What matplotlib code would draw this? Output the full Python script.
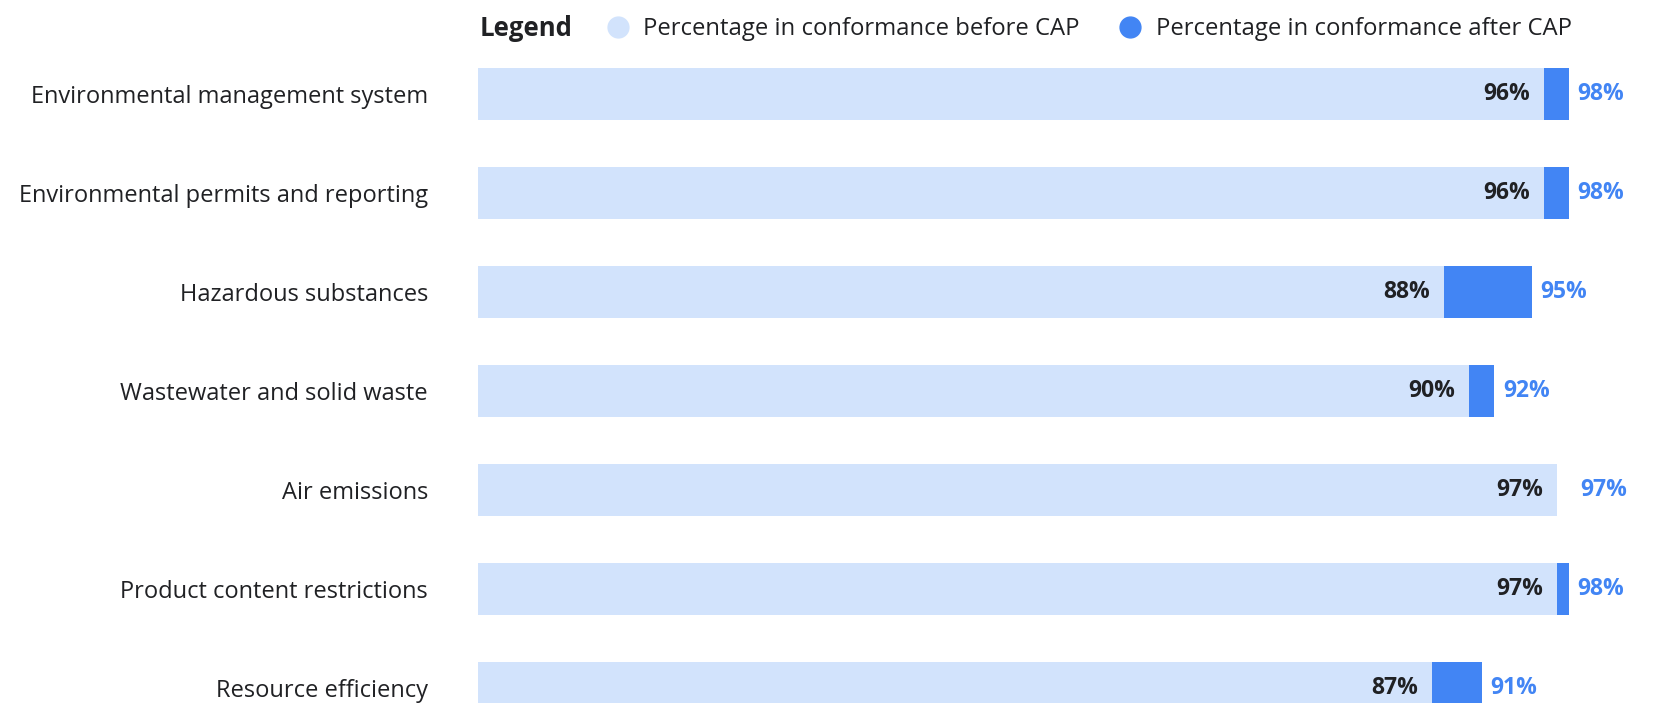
import numpy as np
import matplotlib.pyplot as plt

plt.rcParams['font.family'] = ['Open Sans', 'DejaVu Sans']

categories = [
    "Environmental management system",
    "Environmental permits and reporting",
    "Hazardous substances",
    "Wastewater and solid waste",
    "Air emissions",
    "Product content restrictions",
    "Resource efficiency",
]
before_cap = [96, 96, 88, 90, 97, 97, 87]
after_cap = [98, 98, 95, 92, 97, 98, 91]

light = "#d2e3fc"
dark = "#4285f4"
ink = "#202124"

W, H = 1653, 703
fig = plt.figure(figsize=(W / 100, H / 100), dpi=100)

# axes spans from the bar start to the right edge of the figure
ax = fig.add_axes([478 / W, 0, 1 - 478 / W, 1])
ax.set_xlim(10.72, 104.72)
ax.set_ylim((H - 94) / 99, -94 / 99)
ax.axis("off")

y = np.arange(len(categories))
before = np.array(before_cap)
after = np.array(after_cap)
bar_h = 0.525

ax.barh(y, before, height=bar_h, color=light, linewidth=0)
ax.barh(y, after - before, left=before, height=bar_h, color=dark, linewidth=0)

for yi, b, a, name in zip(y, before, after, categories):
    ax.text(b - 1.1, yi, f"{b}%", ha="right", va="center", fontsize=16.5,
            fontweight="bold", color=ink)
    gap = 0.7 if a > b else 1.9
    ax.text(a + gap, yi, f"{a}%", ha="left", va="center", fontsize=16.5,
            fontweight="bold", color=dark)
    ax.annotate(name, xy=(0, yi), xycoords=("figure pixels", "data"),
                xytext=(428 * 0.72, -2), textcoords="offset points",
                ha="right", va="center", fontsize=17, color=ink)

# legend row
ly = 1 - 29 / H
fig.text(480 / W, ly, "Legend", ha="left", va="center", fontsize=18.5,
         fontweight="bold", color=ink)
fig.add_artist(plt.Line2D([618 / W], [1 - 27 / H], marker="o", markersize=15,
                          color=light, transform=fig.transFigure, linestyle="none"))
fig.text(643 / W, ly, "Percentage in conformance before CAP", ha="left",
         va="center", fontsize=17.2, color=ink)
fig.add_artist(plt.Line2D([1130 / W], [1 - 27 / H], marker="o", markersize=15,
                          color=dark, transform=fig.transFigure, linestyle="none"))
fig.text(1156 / W, ly, "Percentage in conformance after CAP", ha="left",
         va="center", fontsize=17.2, color=ink)

fig.savefig("out.png", dpi=100)
